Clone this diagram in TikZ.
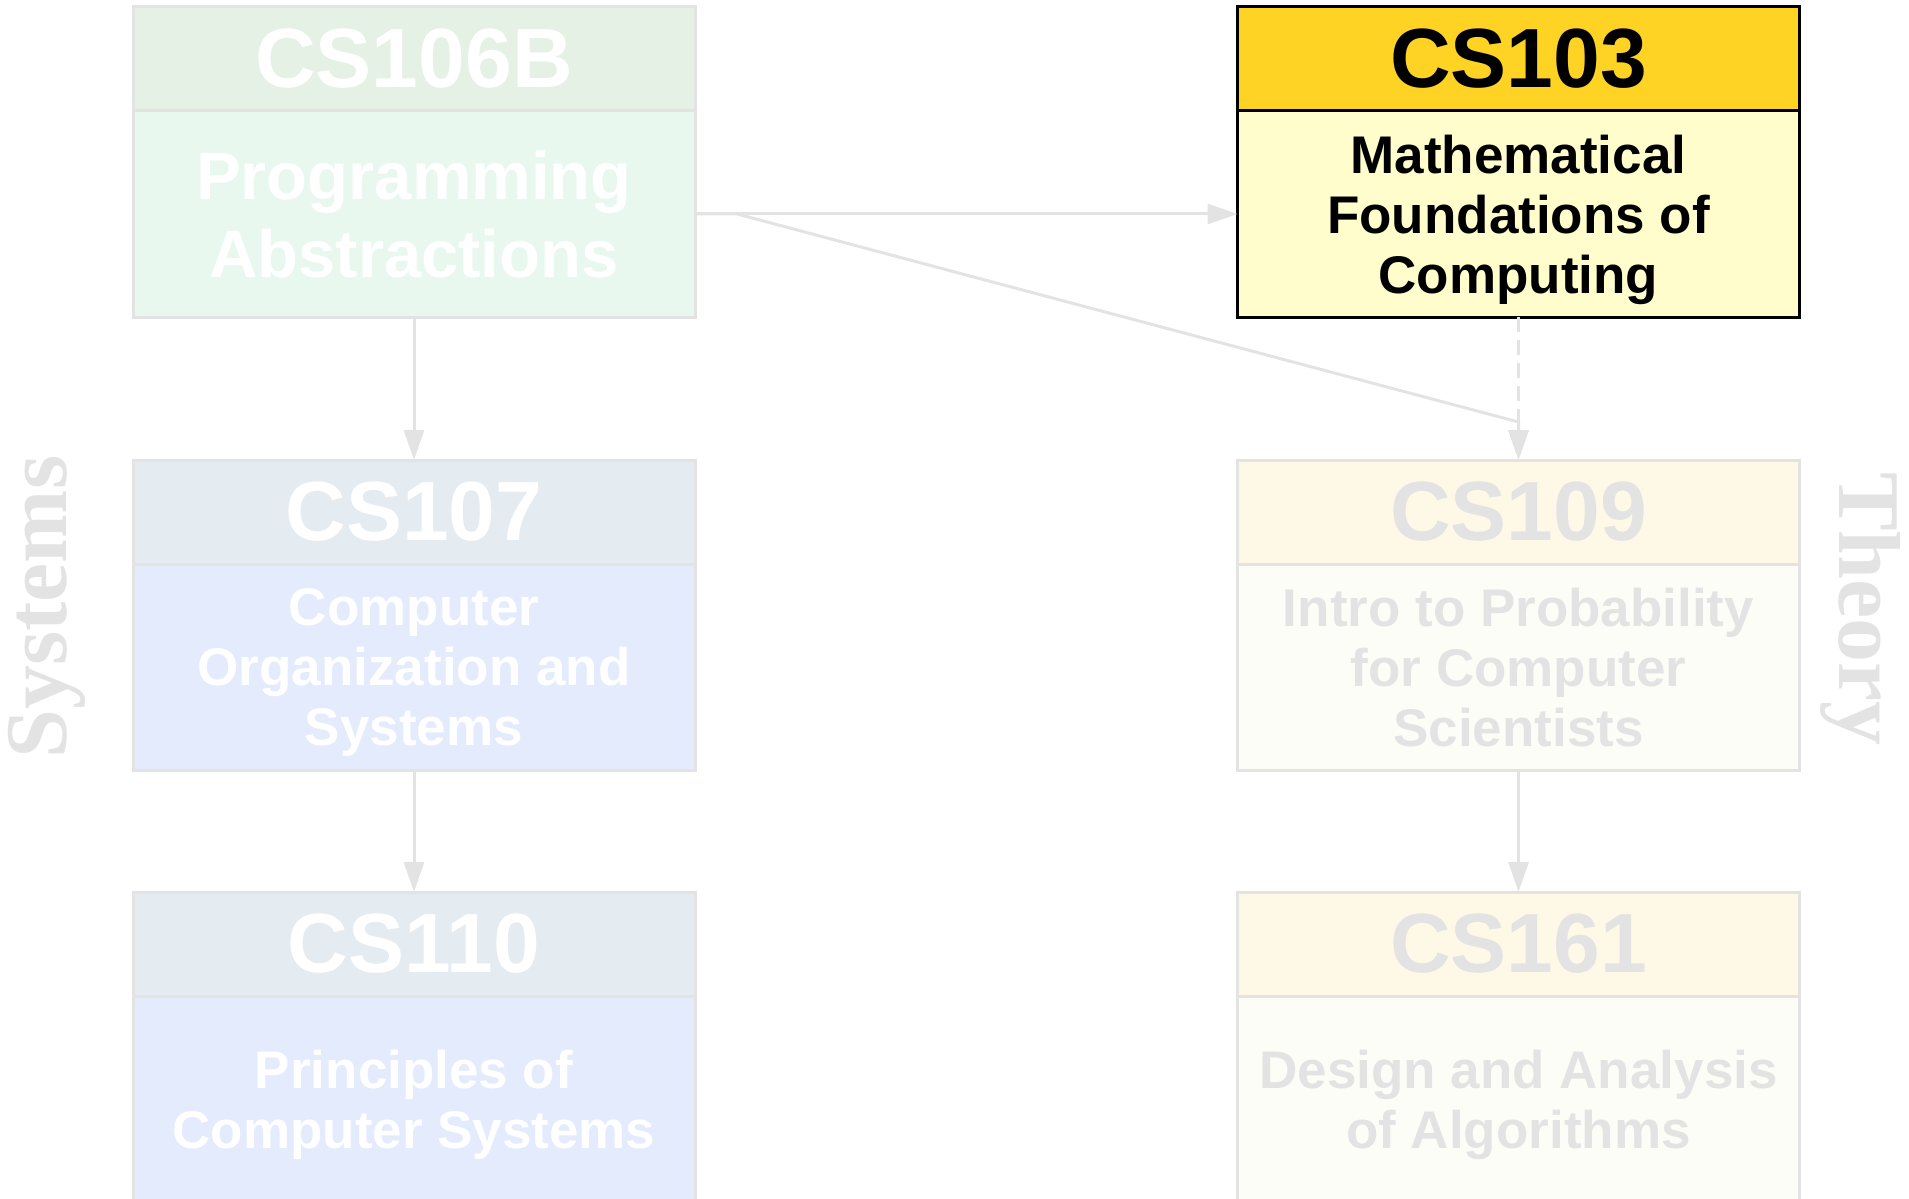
\documentclass[tikz,border=0pt]{standalone}
\usepackage{fontspec}
\setmainfont{Liberation Sans}
\newfontfamily\serifb{Liberation Serif}
\usetikzlibrary{arrows.meta}
\definecolor{ggrid}{HTML}{E3E3E3}
\definecolor{greenh}{HTML}{E5F1E5}
\definecolor{greenb}{HTML}{E8F8EE}
\definecolor{blueh}{HTML}{E4EBF1}
\definecolor{blueb}{HTML}{E4EBFD}
\definecolor{yelh}{HTML}{FEF8E6}
\definecolor{yelb}{HTML}{FDFDF7}
\definecolor{goldh}{HTML}{FFD323}
\definecolor{goldb}{HTML}{FFFDCC}
\tikzset{
  box/.style={draw=ggrid, line width=1.5pt, inner sep=0pt, outer sep=0pt,
    minimum width=281pt, align=center},
  hdr/.style={box, minimum height=52pt, font=\fontsize{42}{46}\selectfont\bfseries, anchor=north},
  bdy/.style={box, minimum height=103pt, anchor=north, text depth=0pt, font=\fontsize{26.5}{30}\selectfont\bfseries},
  edge/.style={draw=ggrid, line width=1.5pt, -{Triangle[length=15pt,width=10pt]}},
  sidelabel/.style={text=ggrid, font=\serifb\fontsize{44}{48}\selectfont\bfseries}
}
\begin{document}
\begin{tikzpicture}[x=0.5pt,y=-0.5pt]
\useasboundingbox (0,0) rectangle (1909,1198);
% Row 1
\node[hdr, fill=greenh, text=white] (cs106bh) at (414,7) {CS106B};
\node[bdy, fill=greenb, text=white, font=\fontsize{33.5}{39}\selectfont\bfseries] (cs106bb) at (cs106bh.south) {Programming\\Abstractions};
\node[hdr, fill=goldh, draw=black, text=black] (cs103h) at (1518.5,7) {CS103};
\node[bdy, fill=goldb, draw=black, text=black] (cs103b) at (cs103h.south) {Mathematical\\Foundations of\\Computing};
% Row 2
\node[hdr, fill=blueh, text=white] (cs107h) at (414,460) {CS107};
\node[bdy, fill=blueb, text=white] (cs107b) at (cs107h.south) {Computer\\Organization and\\Systems};
\node[hdr, fill=yelh, text=ggrid] (cs109h) at (1518.5,460) {CS109};
\node[bdy, fill=yelb, text=ggrid] (cs109b) at (cs109h.south) {Intro to Probability\\for Computer\\Scientists};
% Row 3
\node[hdr, fill=blueh, text=white] (cs110h) at (414,892) {CS110};
\node[bdy, fill=blueb, text=white] (cs110b) at (cs110h.south) {Principles of\\Computer Systems};
\node[hdr, fill=yelh, text=ggrid] (cs161h) at (1518.5,892) {CS161};
\node[bdy, fill=yelb, text=ggrid] (cs161b) at (cs161h.south) {Design and Analysis\\of Algorithms};
% side labels
\node[sidelabel, rotate=90] (sys) at (47,607) {Systems};
\node[sidelabel, rotate=-90] (thy) at (1861,609) {Theory};
% edges
\draw[edge] (cs106bb.south) -- (cs107h.north);
\draw[edge] (cs107b.south) -- (cs110h.north);
\draw[edge] (cs109b.south) -- (cs161h.north);
\draw[edge] (cs106bb.east) -- (cs103b.west);
\coordinate (k1) at (737,214);
\coordinate (k2) at (1518.5,422);
\draw[edge] (cs106bb.east) -- (k1) -- (k2) -- (cs109h.north);
\draw[edge, dash pattern=on 7.5pt off 4pt] (cs103b.south) -- (cs109h.north);
\end{tikzpicture}
\end{document}
